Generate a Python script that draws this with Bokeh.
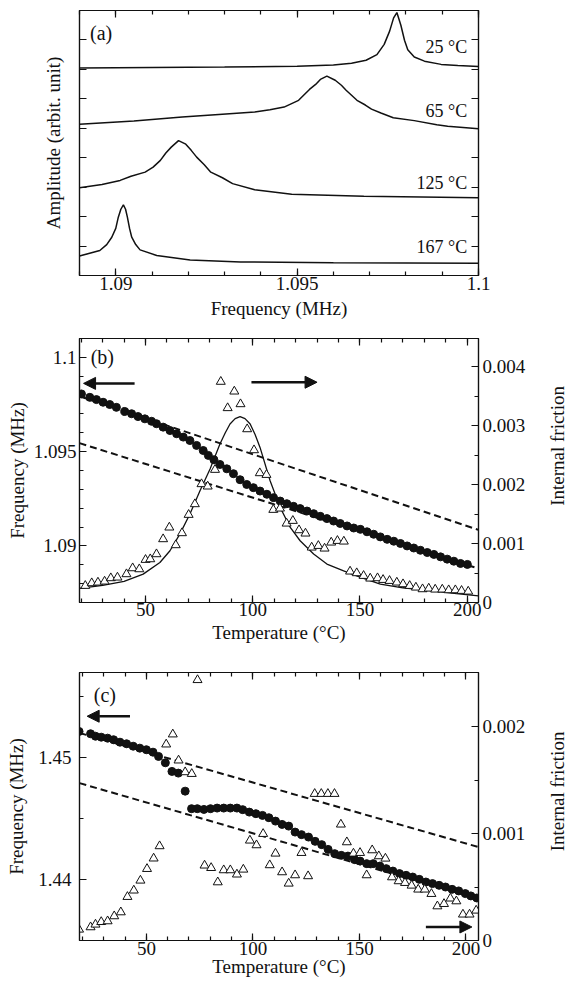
import math
import numpy as np
from bokeh.plotting import figure
from bokeh.layouts import gridplot
from bokeh.models import Range1d, LinearAxis, FixedTicker, Arrow, NormalHead
from bokeh.core.properties import value
from bokeh.embed import file_html
from bokeh.resources import INLINE

FONT = "Liberation Serif"
INK = "#111111"

# ---------------- panel (a): resonance curves ----------------
a_freq_25 = [1.0890, 1.0910, 1.0930, 1.0950, 1.0960, 1.0965, 1.0969, 1.0972, 1.0974, 1.09755,
             1.09766, 1.09775, 1.09786, 1.09796, 1.09805, 1.09823, 1.09851, 1.09897, 1.09943, 1.1000]
a_amp_25 = [7.05, 7.06, 7.08, 7.11, 7.15, 7.21, 7.31, 7.50, 7.85, 8.30,
            8.75, 8.93, 8.50, 7.99, 7.67, 7.42, 7.28, 7.17, 7.13, 7.10]
a_freq_65 = [1.0890, 1.0905, 1.09183, 1.09284, 1.09383, 1.09425, 1.09464, 1.09504, 1.09534, 1.09551,
             1.09564, 1.09582, 1.09605, 1.09622, 1.09635, 1.09665, 1.09688, 1.09705, 1.09731, 1.09765,
             1.09823, 1.09885, 1.09915, 1.1000]
a_amp_65 = [5.14, 5.25, 5.38, 5.47, 5.55, 5.63, 5.72, 5.95, 6.32, 6.49,
            6.66, 6.77, 6.63, 6.46, 6.29, 5.95, 5.79, 5.65, 5.52, 5.36,
            5.26, 5.12, 5.07, 4.98]
a_freq_125 = [1.0890, 1.08962, 1.09012, 1.09042, 1.09081, 1.09103, 1.09123, 1.09138, 1.09153, 1.09173,
              1.09193, 1.09208, 1.09223, 1.09244, 1.09262, 1.09294, 1.09322, 1.09383, 1.09485, 1.09684,
              1.1000]
a_amp_125 = [2.98, 3.09, 3.23, 3.37, 3.51, 3.68, 3.91, 4.16, 4.36, 4.58,
             4.46, 4.25, 4.02, 3.76, 3.51, 3.32, 3.12, 2.91, 2.76, 2.69,
             2.64]
a_freq_167 = [1.0890, 1.08956, 1.08975, 1.08989, 1.09000, 1.09007, 1.09014, 1.09021, 1.09027, 1.09032,
              1.09038, 1.09044, 1.09055, 1.09067, 1.09113, 1.09205, 1.09344, 1.09600, 1.1000]
a_amp_167 = [0.66, 0.85, 1.05, 1.30, 1.60, 1.98, 2.25, 2.40, 2.25, 1.98,
             1.60, 1.30, 1.05, 0.87, 0.68, 0.53, 0.46, 0.43, 0.42]
a_temp_labels = ["25 °C", "65 °C", "125 °C", "167 °C"]
a_temp_label_y = [7.75, 5.60, 3.15, 0.96]
a_xticks = [1.09, 1.095, 1.1]
a_xtick_labels = ["1.09", "1.095", "1.1"]
a_yticks = [1, 2, 3, 4, 5, 6, 7, 8]

# ---------------- panel (b) ----------------
b_temp = [20.1, 24.0, 27.1, 30.2, 33.3, 36.4, 40.3, 43.5, 46.5, 49.7, 52.8, 55.1, 58.2, 61.4, 64.5,
          67.6, 70.7, 73.8, 76.9, 79.3, 81.9, 84.7, 87.9, 91.0, 94.1, 97.2, 100.3, 103.4, 106.6, 109.7,
          112.8, 115.9, 119.0, 122.1, 125.3, 128.4, 131.5, 134.6, 137.7, 140.8, 144.0, 147.1, 150.2,
          153.3, 156.4, 159.5, 162.7, 165.8, 168.9, 172.0, 175.1, 178.2, 181.4, 184.5, 187.6, 190.7,
          193.8, 196.9, 200.1]
b_freq = [1.09806, 1.09788, 1.09776, 1.09762, 1.0975, 1.09735, 1.09713, 1.09701, 1.09686, 1.09674,
          1.09661, 1.09648, 1.0963, 1.09612, 1.09595, 1.09577, 1.09559, 1.09533, 1.09506, 1.0948,
          1.09457, 1.09432, 1.09409, 1.09383, 1.09351, 1.09326, 1.09309, 1.09291, 1.09274, 1.09256,
          1.09238, 1.09224, 1.0921, 1.09198, 1.09185, 1.09171, 1.09157, 1.09145, 1.09132, 1.09119,
          1.09106, 1.09095, 1.09088, 1.09075, 1.09062, 1.09048, 1.09035, 1.09025, 1.09013, 1.09,
          1.08989, 1.08977, 1.08965, 1.08955, 1.08942, 1.0893, 1.08919, 1.08907, 1.08902]
b_qtemp = [21.9, 24.9, 27.8, 30.9, 33.8, 36.9, 41.1, 44.0, 47.1, 50.0, 52.2, 55.1, 58.2, 61.1, 64.1,
           67.0, 70.1, 73.0, 76.1, 79.0, 82.4, 85.1, 88.3, 91.4, 94.3, 97.4, 100.6, 103.3, 106.4, 109.6,
           112.7, 115.8, 118.7, 121.6, 124.6, 127.5, 130.6, 133.5, 136.6, 139.5, 142.5, 145.4, 148.5,
           151.7, 154.8, 158.2, 160.8, 163.8, 167.2, 170.1, 173.2, 176.1, 179.2, 182.1, 185.1, 188.4,
           191.4, 194.5, 197.4, 200.5]
b_q = [0.000284, 0.000329, 0.00034, 0.000357, 0.000414, 0.000425, 0.000482, 0.000583, 0.000566, 0.000725,
       0.000736, 0.000821, 0.001076, 0.001274, 0.000974, 0.001178, 0.001489, 0.00167, 0.00201, 0.00197,
       0.002253, 0.003747, 0.0033, 0.003582, 0.003367, 0.002942, 0.002586, 0.002196, 0.002167, 0.001574,
       0.001596, 0.001341, 0.001387, 0.001228, 0.001172, 0.000934, 0.000962, 0.000917, 0.001019, 0.001047,
       0.001036, 0.000527, 0.000499, 0.000453, 0.000408, 0.000414, 0.000385, 0.000368, 0.00034, 0.000312,
       0.000283, 0.000255, 0.000227, 0.000238, 0.000221, 0.000221, 0.00021, 0.00021, 0.000199, 0.000187]
b_fit_temp = [19.2, 30, 40, 48.9, 56.7, 61.4, 66.0, 70.7, 75.4, 80.1, 84.7, 87.2, 89.4, 91.8, 94.1,
              96.4, 98.8, 101.1, 103.4, 108.1, 112.8, 117.5, 122.1, 128.4, 134.6, 142.4, 150, 159.5, 170,
              182.9, 195, 205.3]
b_fit_q = [0.00024, 0.00029, 0.00036, 0.000482, 0.000679, 0.000878, 0.001161, 0.001501, 0.001896, 0.002265,
           0.002689, 0.00288, 0.003029, 0.00312, 0.003153, 0.00312, 0.003029, 0.00285, 0.002632, 0.002066,
           0.001613, 0.001273, 0.001048, 0.000822, 0.000652, 0.000538, 0.00043, 0.00031, 0.00025,
           0.0002, 0.00015, 0.000114]
b_upper_temp = [19.2, 205.3]
b_upper_freq = [1.09794, 1.09085]
b_lower_temp = [19.2, 205.3]
b_lower_freq = [1.09545, 1.0888]
b_xticks = [50, 100, 150, 200]
b_xtick_labels = ["50", "100", "150", "200"]
b_yticks = [1.09, 1.095, 1.1]
b_ytick_labels = ["1.09", "1.095", "1.1"]
b_qticks = [0, 0.001, 0.002, 0.003, 0.004]
b_qtick_labels = ["0", "0.001", "0.002", "0.003", "0.004"]

# ---------------- panel (c) ----------------
c_temp = [18.4, 23.8, 26.1, 28.8, 31.8, 34.6, 37.6, 40.7, 43.8, 46.9, 50.0, 53.1, 55.7, 58.9, 62.0,
          65.0, 68.2, 71.2, 73.9, 77.0, 80.1, 83.2, 86.3, 89.4, 92.5, 95.2, 98.3, 101.4, 104.5, 107.5,
          110.6, 113.7, 116.8, 119.8, 122.8, 126.1, 129.2, 132.3, 135.3, 138.4, 141.5, 144.6, 147.7,
          150.3, 153.4, 156.5, 159.6, 162.6, 165.7, 168.8, 171.9, 175.0, 178.1, 181.2, 184.3, 187.4,
          190.4, 193.5, 196.6, 199.7, 202.3, 205.1]
c_freq = [1.45216, 1.45197, 1.45177, 1.45169, 1.45161, 1.45148, 1.45128, 1.45115, 1.45095, 1.45079,
          1.45066, 1.45046, 1.45011, 1.44959, 1.44888, 1.44874, 1.44726, 1.44582, 1.44582, 1.44576,
          1.44582, 1.44587, 1.44587, 1.44587, 1.44587, 1.44574, 1.44554, 1.44541, 1.44527, 1.44508,
          1.4448, 1.44453, 1.44439, 1.4439, 1.44369, 1.44349, 1.44314, 1.44287, 1.44248, 1.44213,
          1.44199, 1.44193, 1.44164, 1.44152, 1.44131, 1.44131, 1.44111, 1.4409, 1.4407, 1.44049,
          1.44035, 1.44021, 1.44002, 1.4398, 1.43967, 1.43953, 1.43939, 1.4392, 1.43907, 1.43885,
          1.43866, 1.43849]
c_qtemp = [18.4, 23.8, 26.1, 28.8, 31.8, 34.9, 38.0, 41.1, 44.1, 47.2, 50.3, 53.4, 56.2, 59.3, 62.4,
           65.1, 68.2, 71.3, 74.0, 77.3, 80.4, 83.5, 86.3, 89.4, 92.5, 95.5, 98.6, 101.7, 104.8, 107.9,
           110.6, 113.7, 116.8, 119.8, 122.8, 125.9, 129.0, 132.1, 135.2, 138.3, 141.3, 144.1, 147.2,
           150.3, 153.4, 156.0, 159.1, 162.2, 165.3, 168.4, 171.4, 174.5, 177.6, 180.7, 183.8, 186.6,
           189.7, 192.7, 195.5, 198.6, 201.7, 204.8]
c_q = [0.000103, 0.000125, 0.00015, 0.000174, 0.000181, 0.000228, 0.000265, 0.000409, 0.000469, 0.000562,
       0.000671, 0.000769, 0.000884, 0.001837, 0.001931, 0.001687, 0.001577, 0.001561, 0.00244, 0.000703,
       0.00068, 0.000546, 0.000659, 0.000659, 0.000619, 0.000665, 0.000937, 0.000893, 0.000999, 0.000706,
       0.000815, 0.00064, 0.000534, 0.000612, 0.000821, 0.000603, 0.001374, 0.001374, 0.001374, 0.001374,
       0.001087, 0.000921, 0.000815, 0.000821, 0.000612, 0.000846, 0.00079, 0.000768, 0.000593, 0.000556,
       0.00054, 0.000515, 0.000478, 0.000478, 0.000437, 0.000321, 0.000343, 0.000394, 0.000368, 0.000244,
       0.000244, 0.000281]
c_upper_temp = [18.6, 205.9]
c_upper_freq = [1.45204, 1.44267]
c_lower_temp = [18.6, 205.9]
c_lower_freq = [1.44792, 1.43844]
c_xticks = [50, 100, 150, 200]
c_xtick_labels = ["50", "100", "150", "200"]
c_yticks = [1.44, 1.45]
c_ytick_labels = ["1.44", "1.45"]
c_qticks = [0, 0.001, 0.002]
c_qtick_labels = ["0", "0.001", "0.002"]


def style_axis(ax, show_labels=True, standoff=3):
    ax.axis_line_color = INK
    ax.axis_line_width = 1.2
    ax.major_tick_line_color = INK
    ax.major_tick_line_width = 1.2
    ax.minor_tick_line_color = INK
    ax.minor_tick_line_width = 1.2
    ax.major_tick_in = 7
    ax.major_tick_out = 0
    ax.minor_tick_in = 4
    ax.minor_tick_out = 0
    ax.major_label_text_font = FONT
    if show_labels:
        ax.major_label_text_color = INK
        ax.major_label_text_font_size = "19px"
        ax.major_label_standoff = standoff
    else:
        ax.major_label_text_color = None
        ax.major_label_text_alpha = 0
        ax.major_label_text_font_size = "0px"
        ax.major_label_standoff = 0
    ax.axis_label_text_font = FONT
    ax.axis_label_text_font_size = "19px"
    ax.axis_label_text_font_style = "normal"
    ax.axis_label_text_color = INK


def ticker(ticks, minor):
    return FixedTicker(ticks=list(ticks), minor_ticks=[round(float(m), 6) for m in minor])


MAIN_W, SIDE_W = 545, 26
BL, BR = 79, 67


def make_fig(h, xr, yr, bt, bb):
    p = figure(width=MAIN_W, height=h, x_range=xr, y_range=yr, output_backend="svg",
               toolbar_location=None, min_border_left=BL, min_border_right=BR,
               min_border_top=bt, min_border_bottom=bb)
    p.grid.visible = False
    p.outline_line_color = INK
    p.outline_line_width = 1.2
    p.background_fill_color = "white"
    p.border_fill_color = "white"
    return p


def side_label(h, ypos, text):
    f = figure(width=SIDE_W, height=h, x_range=Range1d(0, 1), y_range=Range1d(0, 1),
               output_backend="svg", toolbar_location=None, min_border=0)
    f.axis.visible = False
    f.grid.visible = False
    f.outline_line_color = None
    f.background_fill_color = "white"
    f.border_fill_color = "white"
    f.text(x=[0.45], y=[ypos], text=[text], angle=math.pi / 2, text_font=value(FONT),
           text_font_size="19px", text_align="center", text_baseline="middle", text_color=INK)
    return f


# ===== panel (a) =====
a_xminor = np.arange(1.089, 1.1005, 0.001)
pa = make_fig(323, Range1d(1.089, 1.1), Range1d(0, 9), 10, 48)
axb = pa.below[0]
style_axis(axb, True, 1)
axb.ticker = ticker(a_xticks, a_xminor)
axb.major_label_overrides = dict(zip(a_xticks, a_xtick_labels))
axb.axis_label = "Frequency (MHz)"
axb.axis_label_standoff = 5
axl = pa.left[0]
style_axis(axl, False)
axl.ticker = ticker(a_yticks, [])
axl.axis_label = "Amplitude (arbit. unit)"
axl.axis_label_standoff = 16
top = LinearAxis(ticker=ticker(a_xticks, a_xminor))
style_axis(top, False)
pa.add_layout(top, "above")
rgt = LinearAxis(ticker=ticker(a_yticks, []))
style_axis(rgt, False)
pa.add_layout(rgt, "right")
for fx, fy in [(a_freq_25, a_amp_25), (a_freq_65, a_amp_65), (a_freq_125, a_amp_125), (a_freq_167, a_amp_167)]:
    pa.line(fx, fy, line_color=INK, line_width=1.5)
pa.text(x=[1.09969] * 4, y=a_temp_label_y, text=a_temp_labels, text_font=value(FONT),
        text_font_size="18px", text_align="right", text_baseline="middle", text_color=INK)
pa.text(x=[1.08929], y=[8.22], text=["(a)"], text_font=value(FONT), text_font_size="20px",
        text_align="left", text_baseline="middle", text_color=INK)

# ===== panel (b) =====
pb = make_fig(327, Range1d(19.2, 205.3), Range1d(1.087, 1.101), 15, 48)
pb.extra_y_ranges = {"q": Range1d(0, 0.00448)}
b_xminor = np.arange(20, 206, 10)
b_yminor = np.arange(1.087, 1.1015, 0.001)
b_qminor = np.arange(0.0005, 0.0045, 0.0005)
axb = pb.below[0]
style_axis(axb, True, 0)
axb.ticker = ticker(b_xticks, b_xminor)
axb.major_label_overrides = dict(zip(b_xticks, b_xtick_labels))
axb.axis_label = "Temperature (°C)"
axb.axis_label_standoff = 3
axl = pb.left[0]
style_axis(axl, True, 3)
axl.ticker = ticker(b_yticks, b_yminor)
axl.major_label_overrides = dict(zip(b_yticks, b_ytick_labels))
axl.axis_label = "Frequency (MHz)"
axl.axis_label_standoff = 3
top = LinearAxis(ticker=ticker(b_xticks, b_xminor))
style_axis(top, False)
pb.add_layout(top, "above")
rax = LinearAxis(y_range_name="q", ticker=ticker(b_qticks, b_qminor))
style_axis(rax, True, 4)
rax.major_label_overrides = dict(zip(b_qticks, b_qtick_labels))
pb.add_layout(rax, "right")
pb.line(b_upper_temp, b_upper_freq, line_color=INK, line_width=2, line_dash="7 4")
pb.line(b_lower_temp, b_lower_freq, line_color=INK, line_width=2, line_dash="7 4")
pb.line(b_fit_temp, b_fit_q, line_color=INK, line_width=1.3, y_range_name="q")
pb.scatter(b_temp, b_freq, marker="circle", size=8, fill_color=INK, line_color=INK)
pb.scatter(b_qtemp, b_q, marker="triangle", size=9, fill_color="white", line_color=INK,
           line_width=1, y_range_name="q")
pb.add_layout(Arrow(end=NormalHead(size=12, fill_color=INK, line_color=INK), x_start=44.9, x_end=21.1,
                    y_start=1.09862, y_end=1.09862, line_width=2.5, line_color=INK))
pb.add_layout(Arrow(end=NormalHead(size=12, fill_color=INK, line_color=INK), x_start=99.4, x_end=130.0,
                    y_start=1.09868, y_end=1.09868, line_width=2.5, line_color=INK))
pb.text(x=[24.4], y=[1.1], text=["(b)"], text_font=value(FONT), text_font_size="20px",
        text_align="left", text_baseline="middle", text_color=INK)
lb = side_label(327, 0.593, "Internal friction")

# ===== panel (c) =====
pc = make_fig(331, Range1d(18.6, 205.9), Range1d(1.435, 1.457), 22, 41)
pc.extra_y_ranges = {"q": Range1d(0, 0.00251)}
c_xminor = np.arange(20, 206, 10)
c_yminor = [1.435, 1.445, 1.455]
c_qminor = [0.0005, 0.0015]
axb = pc.below[0]
style_axis(axb, True, 1)
axb.ticker = ticker(c_xticks, c_xminor)
axb.major_label_overrides = dict(zip(c_xticks, c_xtick_labels))
axb.axis_label = "Temperature (°C)"
axb.axis_label_standoff = -2
axl = pc.left[0]
style_axis(axl, True, 8)
axl.ticker = ticker(c_yticks, c_yminor)
axl.major_label_overrides = dict(zip(c_yticks, c_ytick_labels))
axl.axis_label = "Frequency (MHz)"
axl.axis_label_standoff = 8
top = LinearAxis(ticker=ticker(c_xticks, c_xminor))
style_axis(top, False)
pc.add_layout(top, "above")
rax = LinearAxis(y_range_name="q", ticker=ticker(c_qticks, c_qminor))
style_axis(rax, True, 4)
rax.major_label_overrides = dict(zip(c_qticks, c_qtick_labels))
pc.add_layout(rax, "right")
pc.line(c_upper_temp, c_upper_freq, line_color=INK, line_width=2, line_dash="7 4")
pc.line(c_lower_temp, c_lower_freq, line_color=INK, line_width=2, line_dash="7 4")
pc.scatter(c_temp, c_freq, marker="circle", size=8, fill_color=INK, line_color=INK)
pc.scatter(c_qtemp, c_q, marker="triangle", size=9, fill_color="white", line_color=INK,
           line_width=1, y_range_name="q")
pc.add_layout(Arrow(end=NormalHead(size=12, fill_color=INK, line_color=INK), x_start=42.3, x_end=22.2,
                    y_start=1.45341, y_end=1.45341, line_width=2.5, line_color=INK))
pc.add_layout(Arrow(end=NormalHead(size=12, fill_color=INK, line_color=INK), x_start=181.2, x_end=202.8,
                    y_start=1.43611, y_end=1.43611, line_width=2.5, line_color=INK))
pc.text(x=[25.3], y=[1.45519], text=["(c)"], text_font=value(FONT), text_font_size="20px",
        text_align="left", text_baseline="middle", text_color=INK)
lc = side_label(331, 0.556, "Internal friction")

layout = gridplot([[pa, None], [pb, lb], [pc, lc]], toolbar_location=None)
open("out.html", "w").write(file_html(layout, INLINE))
